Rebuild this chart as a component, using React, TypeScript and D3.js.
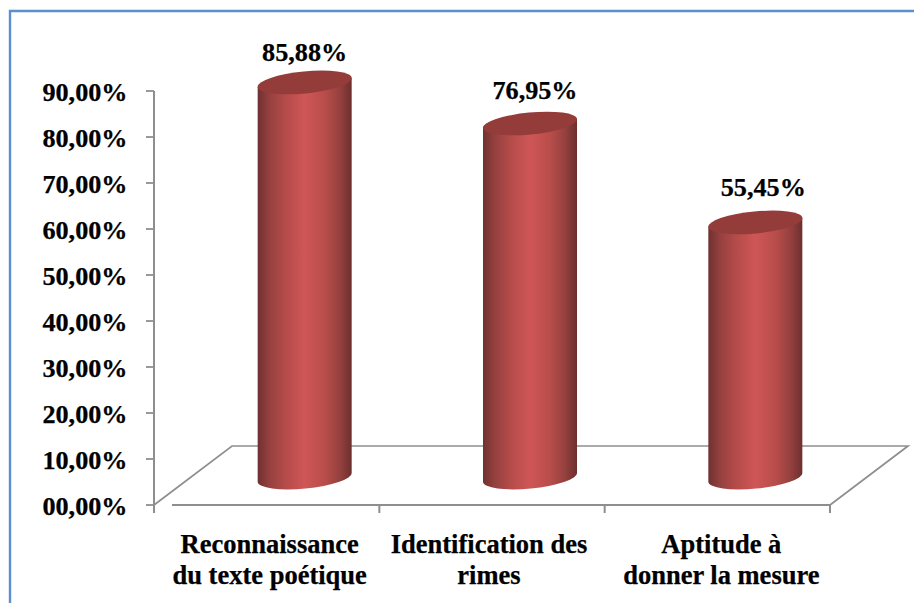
import React from "react";
import * as d3 from "d3";

// Scores per skill, in percent
const categories = ["Reconnaissance du texte poétique", "Identification des rimes", "Aptitude à donner la mesure"];
const categoryLines = [
  ["Reconnaissance", "du texte poétique"],
  ["Identification des", "rimes"],
  ["Aptitude à", "donner la mesure"],
];
const scores = [85.88, 76.95, 55.45];
const scoreLabels = ["85,88%", "76,95%", "55,45%"];
const tickValues = [0, 10, 20, 30, 40, 50, 60, 70, 80, 90];

const W = 914;
const H = 603;
const axisX = 154;
const axisRight = 830;
const baseY = 505;
const topY = 91;
const depthX = 78;
const depthY = 59;
const barDepthX = 38;
const barDepthY = 27.5;
const radiusX = 47;
const radiusY = 11;
const tiltDy = 4.5;

const labelNudge = [
  { x: 3, y: 0 },
  { x: -3, y: 0 },
  { x: 4, y: 0 },
];
const valueNudge = [
  { x: 0, y: -21.5 },
  { x: 5, y: -24.5 },
  { x: 8, y: -26.5 },
];

const fmtTick = (v: number) => `${String(v).padStart(2, "0")},00%`;
const serif = "'Liberation Serif', serif";
const gray = "#8e8e8e";

export default function App() {
  const y = d3.scaleLinear().domain([0, 90]).range([baseY, topY]);
  const x = d3.scaleBand<string>().domain(categories).range([axisX, axisRight]);
  const bottomTicks = [axisX, ...categories.map((c) => (x(c) as number) + x.bandwidth())];
  const tiltDeg = (Math.atan2(tiltDy, radiusX) * 180) / Math.PI;

  return (
    <svg width={W} height={H} style={{ position: "absolute", left: 0, top: 0, background: "#fff" }}>
      <defs>
        <linearGradient id="cyl" x1="0" x2="1" y1="0" y2="0">
          <stop offset="0" stopColor="#6f3130" />
          <stop offset="0.12" stopColor="#94403f" />
          <stop offset="0.3" stopColor="#b54c4a" />
          <stop offset="0.5" stopColor="#cf5656" />
          <stop offset="0.72" stopColor="#b74d4a" />
          <stop offset="0.88" stopColor="#93403e" />
          <stop offset="1" stopColor="#6c2f2e" />
        </linearGradient>
      </defs>

      {/* chart frame, open on the right and at the bottom */}
      <path d={`M${W},11 H10 V${H}`} fill="none" stroke="#5b8fd0" strokeWidth={2.4} />

      {/* floor of the 3D plot */}
      <path
        d={`M${axisX},${baseY} L${axisX + depthX},${baseY - depthY} H${axisRight + depthX} L${axisRight},${baseY}`}
        fill="none"
        stroke={gray}
        strokeWidth={1.7}
      />
      <line x1={172} x2={axisRight} y1={baseY} y2={baseY} stroke={gray} strokeWidth={2} />
      {bottomTicks.map((t) => (
        <line key={t} x1={t} x2={t} y1={baseY} y2={baseY + 8} stroke={gray} strokeWidth={2} />
      ))}

      {/* value axis */}
      <line x1={axisX} x2={axisX} y1={topY} y2={baseY} stroke={gray} strokeWidth={2} />
      {tickValues.map((v) => (
        <g key={v}>
          <line x1={axisX - 8} x2={axisX} y1={y(v)} y2={y(v)} stroke={gray} strokeWidth={1.8} />
          <text
            x={127.5}
            y={y(v) + 10}
            textAnchor="end"
            fontFamily={serif}
            fontWeight="bold"
            fontSize={26.2}
            fill="#000"
            stroke="#000"
            strokeWidth={0.25}
          >
            {fmtTick(v)}
          </text>
        </g>
      ))}

      {/* cylinders */}
      {categories.map((c, i) => {
        const cx = (x(c) as number) + x.bandwidth() / 2 + barDepthX;
        const yTop = y(scores[i]) - barDepthY;
        const yBase = y(0) - barDepthY;
        const left = cx - radiusX;
        const right = cx + radiusX;
        return (
          <g key={c}>
            <path
              d={`M${left},${yTop + tiltDy} V${yBase + tiltDy} A${radiusX} ${radiusY} ${-tiltDeg} 0 0 ${right} ${yBase - tiltDy} V${yTop - tiltDy} Z`}
              fill="url(#cyl)"
            />
            <ellipse
              cx={cx}
              cy={yTop}
              rx={radiusX + 0.3}
              ry={radiusY}
              transform={`rotate(${-tiltDeg} ${cx} ${yTop})`}
              fill="#933c3a"
            />
            <text
              x={cx + valueNudge[i].x}
              y={yTop + valueNudge[i].y}
              textAnchor="middle"
              fontFamily={serif}
              fontWeight="bold"
              fontSize={26.2}
              fill="#000"
              stroke="#000"
              strokeWidth={0.25}
            >
              {scoreLabels[i]}
            </text>
          </g>
        );
      })}

      {/* category labels */}
      {categories.map((c, i) => (
        <text
          key={c}
          textAnchor="middle"
          fontFamily={serif}
          fontWeight="bold"
          fontSize={26.5}
          fill="#000"
          stroke="#000"
          strokeWidth={0.25}
        >
          {categoryLines[i].map((line, j) => (
            <tspan
              key={line}
              x={(x(c) as number) + x.bandwidth() / 2 + labelNudge[i].x}
              y={553 + j * 31 + labelNudge[i].y}
            >
              {line}
            </tspan>
          ))}
        </text>
      ))}
    </svg>
  );
}
